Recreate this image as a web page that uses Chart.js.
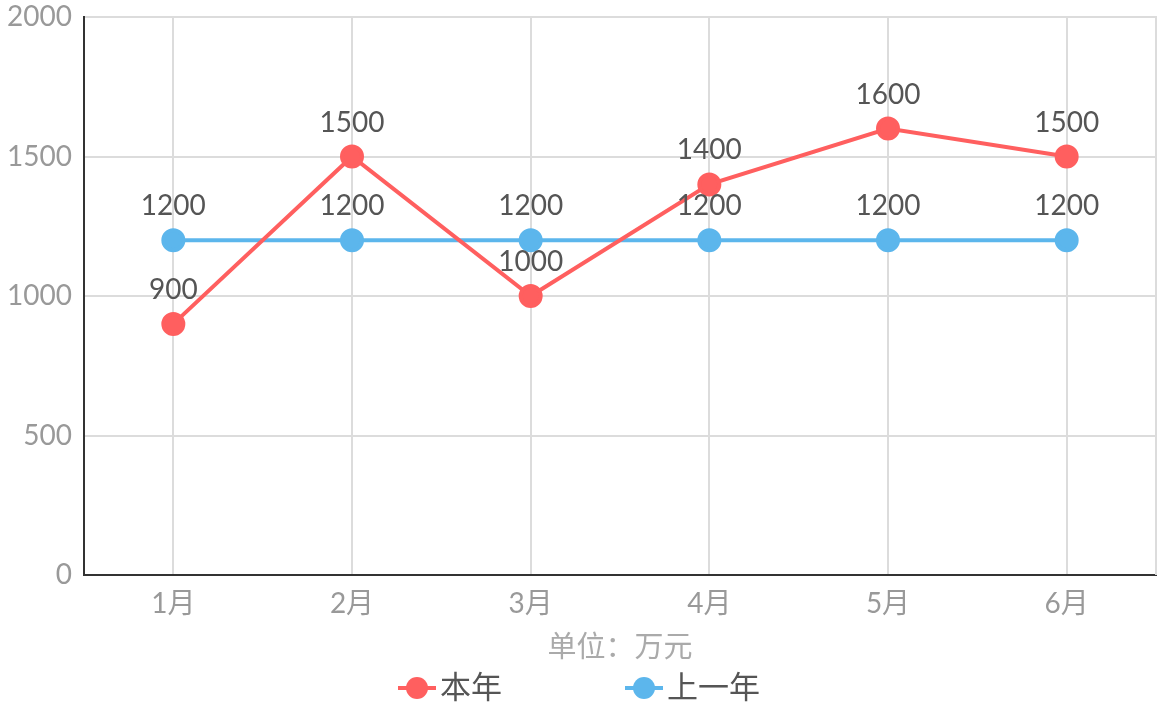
<!DOCTYPE html>
<html>
<head>
<meta charset="utf-8">
<script src="https://cdn.jsdelivr.net/npm/chart.js@4/dist/chart.umd.min.js"></script>
<style>
  html, body { margin: 0; padding: 0; background: #fff; overflow: hidden; }
  #wrap { position: relative; width: 1161px; height: 711px; }
  #wrap canvas { display: block; }
</style>
</head>
<body>
<div id="wrap"><canvas id="salesChart"></canvas></div>
<script>
// Dữ liệu biểu đồ
const months = ["1月", "2月", "3月", "4月", "5月", "6月"];
const thisYear = [900, 1500, 1000, 1400, 1600, 1500];
const lastYear = [1200, 1200, 1200, 1200, 1200, 1200];
const yTicks = [0, 500, 1000, 1500, 2000];
const seriesNames = ["本年", "上一年"];
const seriesColors = ["#ff5f5f", "#5cb6ec"];

const FONT = 'Lato, "Noto Sans CJK SC", sans-serif';

// Viền phải của vùng vẽ
const rightBorder = {
	id: "rightBorder",
	beforeDatasetsDraw(chart) {
		const { ctx, chartArea } = chart;
		ctx.save();
		ctx.strokeStyle = "#dcdcdc";
		ctx.lineWidth = 2;
		ctx.beginPath();
		ctx.moveTo(chartArea.right, chartArea.top - 1);
		ctx.lineTo(chartArea.right, chartArea.bottom);
		ctx.stroke();
		ctx.restore();
	},
};

// Nhãn giá trị phía trên mỗi điểm
const valueLabels = {
	id: "valueLabels",
	afterDatasetsDraw(chart) {
		const ctx = chart.ctx;
		ctx.save();
		ctx.font = "28px " + FONT;
		ctx.fillStyle = "#555";
		ctx.textAlign = "center";
		ctx.textBaseline = "bottom";
		chart.data.datasets.forEach((ds, i) => {
			chart.getDatasetMeta(i).data.forEach((pt, j) => {
				ctx.fillText(ds.data[j], pt.x, pt.y - 20);
			});
		});
		ctx.restore();
	},
};

// Chú thích tự vẽ ở cuối biểu đồ
const bottomLegend = {
	id: "bottomLegend",
	afterDraw(chart) {
		const ctx = chart.ctx;
		const y = 688;
		const starts = [398, 625];
		ctx.save();
		ctx.font = "31px " + FONT;
		ctx.textBaseline = "middle";
		chart.data.datasets.forEach((ds, i) => {
			const x = starts[i];
			ctx.strokeStyle = ds.borderColor;
			ctx.lineWidth = 4;
			ctx.beginPath();
			ctx.moveTo(x, y);
			ctx.lineTo(x + 38, y);
			ctx.stroke();
			ctx.fillStyle = ds.borderColor;
			ctx.beginPath();
			ctx.arc(x + 19, y, 11, 0, Math.PI * 2);
			ctx.fill();
			ctx.fillStyle = "#555";
			ctx.fillText(ds.label, x + 42, y);
		});
		ctx.restore();
	},
};

const ctx1 = document.getElementById("salesChart").getContext("2d");
new Chart(ctx1, {
	type: "line",
	data: {
		labels: months,
		datasets: [
			{
				label: seriesNames[0],
				data: thisYear,
				borderColor: seriesColors[0],
				backgroundColor: seriesColors[0],
				borderWidth: 4,
				pointRadius: 10,
				pointHoverRadius: 10,
				tension: 0,
			},
			{
				label: seriesNames[1],
				data: lastYear,
				borderColor: seriesColors[1],
				backgroundColor: seriesColors[1],
				borderWidth: 4,
				pointRadius: 10,
				pointHoverRadius: 10,
				tension: 0,
			},
		],
	},
	options: {
		responsive: true,
		maintainAspectRatio: false,
		animation: false,
		layout: { autoPadding: false, padding: { top: 0, left: 6, right: 5, bottom: 46 } },
		scales: {
			x: {
				offset: true,
				afterFit: (axis) => {
					axis.height = 90;
					axis.paddingLeft = 0;
					axis.paddingRight = 0;
				},
				grid: { color: "#dcdcdc", lineWidth: 2, offset: false, drawTicks: false },
				border: { color: "#333", width: 2 },
				ticks: { color: "#999", font: { family: FONT, size: 28 }, padding: 12 },
				title: {
					display: true,
					text: "单位：万元",
					color: "#aaa",
					font: { family: FONT, size: 29 },
					padding: { top: 8, bottom: 0 },
				},
			},
			y: {
				min: 0,
				max: 2000,
				afterBuildTicks: (axis) => { axis.ticks = yTicks.map((v) => ({ value: v })); },
				afterFit: (axis) => {
					axis.width = 78;
					axis.paddingTop = 17;
					axis.paddingBottom = 0;
				},
				grid: { color: "#dcdcdc", lineWidth: 2, drawTicks: false },
				border: { color: "#333", width: 2 },
				ticks: {
					color: "#999",
					font: { family: FONT, size: 28, lineHeight: 1 },
					padding: 12,
					callback: (value) => String(value),
				},
			},
		},
		plugins: {
			legend: { display: false },
			tooltip: { enabled: false },
		},
	},
	plugins: [rightBorder, valueLabels, bottomLegend],
});
</script>
</body>
</html>
